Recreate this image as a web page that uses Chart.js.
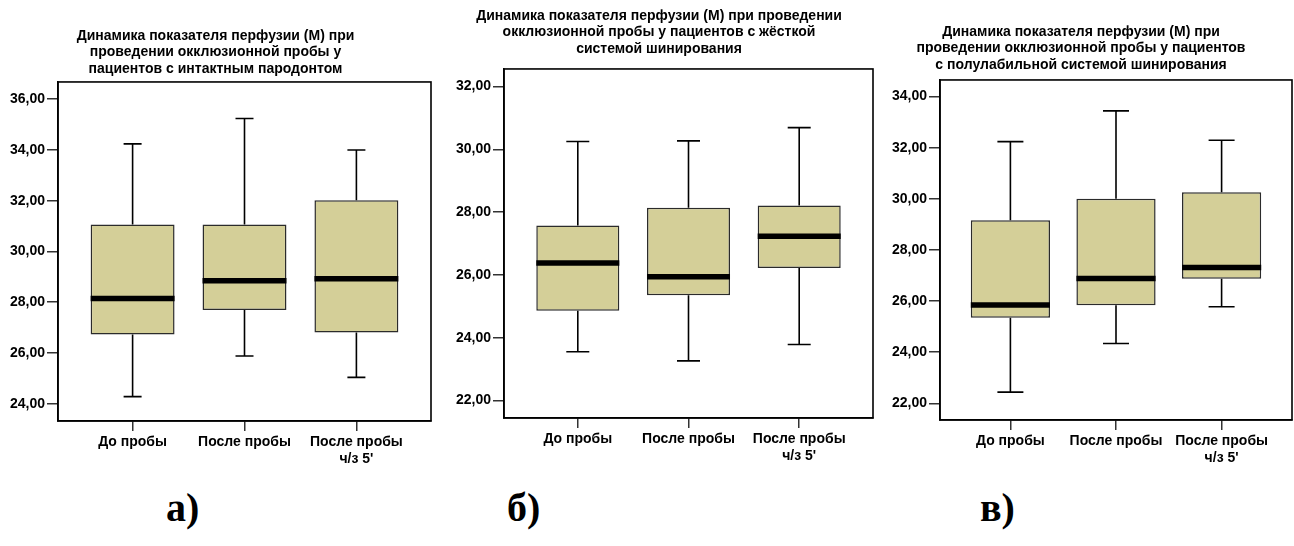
<!DOCTYPE html>
<html lang="ru">
<head>
<meta charset="utf-8">
<script src="https://cdn.jsdelivr.net/npm/chart.js@4.4.0/dist/chart.umd.min.js"></script>
<style>
  html, body { margin: 0; padding: 0; background: #fff; overflow: hidden; }
  body { width: 1294px; height: 546px; position: relative; }
  .panel { position: absolute; top: 0; height: 475px; }
  .letter {
    position: absolute; top: 488px;
    font-family: "Liberation Serif", "Times New Roman", serif;
    font-weight: bold; font-size: 40px; line-height: 1; color: #000;
  }
</style>
</head>
<body>
<div class="panel" style="left:0;width:444px"><canvas id="chartA"></canvas></div>
<div class="panel" style="left:445px;width:474px"><canvas id="chartB"></canvas></div>
<div class="panel" style="left:870px;width:480px"><canvas id="chartC"></canvas></div>
<div class="letter" style="left:166px">а)</div>
<div class="letter" style="left:507px">б)</div>
<div class="letter" style="left:980px">в)</div>

<script>
const categories = ['До пробы', 'После пробы', ['После пробы', "ч/з 5'"]];

// а) интактный пародонт
const titleA = ['Динамика показателя перфузии (М) при', 'проведении окклюзионной пробы у', 'пациентов с интактным пародонтом'];
const minA = [24.28, 25.88, 25.04];
const q1A = [26.73, 27.69, 26.81];
const medA = [28.15, 28.85, 28.93];
const q3A = [31.06, 31.06, 32.02];
const maxA = [34.24, 35.24, 34.00];
const ticksA = [24, 26, 28, 30, 32, 34, 36];

// б) жёсткая система шинирования
const titleB = ['Динамика показателя перфузии (М) при проведении', 'окклюзионной пробы у пациентов с жёсткой', 'системой шинирования'];
const minB = [23.55, 23.26, 23.78];
const q1B = [24.86, 25.35, 26.22];
const medB = [26.38, 25.94, 27.23];
const q3B = [27.57, 28.14, 28.21];
const maxB = [30.25, 30.27, 30.69];
const ticksB = [22, 24, 26, 28, 30, 32];

// в) полулабильная система шинирования
const titleC = ['Динамика показателя перфузии (М) при', 'проведении окклюзионной пробы у пациентов', 'с полулабильной системой шинирования'];
const minC = [22.44, 24.34, 25.78];
const q1C = [25.35, 25.84, 26.87];
const medC = [25.85, 26.88, 27.31];
const q3C = [29.16, 30.00, 30.26];
const maxC = [32.24, 33.44, 32.29];
const ticksC = [22, 24, 26, 28, 30, 32, 34];

const FONT = '"Liberation Sans", Arial, sans-serif';

function makeBoxChart(id, cfg) {
    // whiskers, medians and frame drawn with the chart's own scales
    const whiskers = {
        id: 'whiskers_' + id,
        afterDatasetsDraw(chart) {
            const { ctx, scales: { x, y }, chartArea: a } = chart;
            const meta = chart.getDatasetMeta(0);
            ctx.save();
            ctx.strokeStyle = '#000';
            meta.data.forEach((bar, i) => {
                const cx = x.getPixelForValue(i);
                const yMin = y.getPixelForValue(cfg.min[i]);
                const yQ1 = y.getPixelForValue(cfg.q1[i]);
                const yQ3 = y.getPixelForValue(cfg.q3[i]);
                const yMax = y.getPixelForValue(cfg.max[i]);
                const yMed = y.getPixelForValue(cfg.med[i]);
                ctx.lineWidth = 1.6;
                ctx.beginPath();
                ctx.moveTo(cx, yQ3); ctx.lineTo(cx, yMax);
                ctx.moveTo(cx, yQ1); ctx.lineTo(cx, yMin);
                ctx.moveTo(cx - cfg.cap / 2, yMax); ctx.lineTo(cx + cfg.cap / 2, yMax);
                ctx.moveTo(cx - cfg.cap / 2, yMin); ctx.lineTo(cx + cfg.cap / 2, yMin);
                ctx.stroke();
                ctx.lineWidth = 5.5;
                ctx.beginPath();
                ctx.moveTo(bar.x - bar.width / 2, yMed);
                ctx.lineTo(bar.x + bar.width / 2, yMed);
                ctx.stroke();
            });
            ctx.lineWidth = 1.6;
            ctx.strokeRect(a.left, a.top, a.right - a.left, a.bottom - a.top);
            ctx.restore();
        }
    };

    new Chart(document.getElementById(id), {
        type: 'bar',
        data: {
            datasets: [{
                data: cfg.q1.map((v, i) => ({ x: i, y: [v, cfg.q3[i]] })),
                backgroundColor: '#d4cf98',
                borderColor: '#2b2b2b',
                borderWidth: 1.5,
                borderSkipped: false,
                barPercentage: 0.75,
                categoryPercentage: 1,
            }],
        },
        options: {
            responsive: true,
            maintainAspectRatio: false,
            animation: false,
            layout: { padding: { left: 0, right: cfg.padR, top: 0, bottom: 0 } },
            plugins: {
                legend: { display: false },
                tooltip: { enabled: false },
                title: {
                    display: true,
                    text: cfg.title,
                    color: '#000',
                    font: { family: FONT, size: 14, weight: 'bold', lineHeight: 1.18 },
                    padding: { top: cfg.titleTop, bottom: cfg.titleBottom },
                },
            },
            scales: {
                x: {
                    type: 'linear',
                    min: -2 / 3,
                    max: categories.length - 1 + 2 / 3,
                    offset: false,
                    afterBuildTicks: s => { s.ticks = categories.map((c, i) => ({ value: i })); },
                    afterFit: s => { s.height = cfg.xH; },
                    grid: { drawOnChartArea: false, offset: false, tickLength: 10, color: '#333', lineWidth: 1.5 },
                    border: { color: '#000', width: 1.6 },
                    ticks: {
                        color: '#000', padding: 3, maxRotation: 0, autoSkip: false,
                        font: { family: FONT, size: 14, weight: 'bold', lineHeight: 1.2 },
                        callback: v => categories[v],
                    },
                },
                y: {
                    min: cfg.yMin,
                    max: cfg.yMax,
                    afterBuildTicks: s => { s.ticks = cfg.ticks.map(v => ({ value: v })); },
                    afterFit: s => { s.width = cfg.yW; },
                    grid: { drawOnChartArea: false, tickLength: 11, color: '#333', lineWidth: 1.5 },
                    border: { color: '#000', width: 1.6 },
                    ticks: {
                        color: '#000', padding: 2,
                        font: { family: FONT, size: 14, weight: 'bold' },
                        callback: v => v.toFixed(2).replace('.', ','),
                    },
                },
            },
        },
        plugins: [whiskers],
    });
}

makeBoxChart('chartA', {
    title: titleA, min: minA, q1: q1A, med: medA, q3: q3A, max: maxA, ticks: ticksA,
    yMin: 23.32, yMax: 36.68, yW: 58, padR: 13, xH: 54, titleTop: 27.7, titleBottom: 4.7, cap: 18,
});
makeBoxChart('chartB', {
    title: titleB, min: minB, q1: q1B, med: medB, q3: q3B, max: maxB, ticks: ticksB,
    yMin: 21.44, yMax: 32.56, yW: 59, padR: 46, xH: 57, titleTop: 7.7, titleBottom: 11.7, cap: 23,
});
makeBoxChart('chartC', {
    title: titleC, min: minC, q1: q1C, med: medC, q3: q3C, max: maxC, ticks: ticksC,
    yMin: 21.35, yMax: 34.65, yW: 70, padR: 58, xH: 55, titleTop: 23.7, titleBottom: 6.7, cap: 26,
});
</script>
</body>
</html>
